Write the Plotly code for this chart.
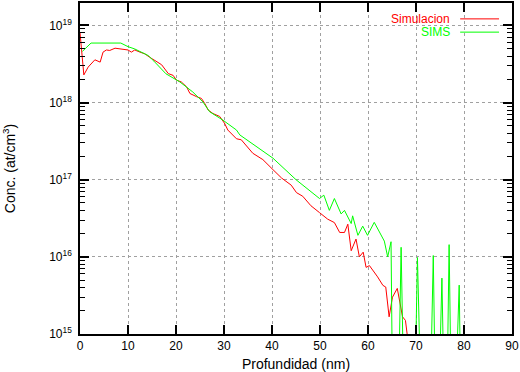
import plotly.graph_objects as go

# Simulacion (red)
sim_depth = [0.0, 0.8, 1.7, 3.1, 4.2, 4.8, 5.5, 6.2, 7.3, 8.7, 10.0, 10.7, 11.4, 12.5, 13.5,
             14.5, 15.4, 17.0, 18.4, 19.4, 20.1, 21.1, 22.2, 22.9, 24.3, 25.3, 26.0, 26.7,
             27.7, 29.1, 30.1, 30.8, 32.6, 33.6, 36.0, 38.1, 40.2, 42.0, 44.0, 45.1, 46.4,
             48.1, 49.9, 51.6, 53.0, 54.1, 55.1, 55.8, 56.5, 57.5, 58.2, 59.0, 59.6, 60.3,
             62.0, 63.1, 63.7, 64.4, 65.1, 66.1, 67.2, 67.8, 68.6]
sim_conc = [8.1e18, 2.28e18, 2.88e18, 3.58e18, 3.34e18, 4.5e18, 4.8e18, 4.73e18, 5.06e18,
            4.95e18, 4.8e18, 4.5e18, 4.8e18, 4.5e18, 4.28e18, 3.87e18, 3.54e18, 3.09e18,
            2.37e18, 2.25e18, 1.95e18, 1.85e18, 1.6e18, 1.31e18, 1.19e18, 1.13e18, 9.7e17,
            8.0e17, 7.2e17, 6.6e17, 5.4e17, 4.4e17, 3.39e17, 3.29e17, 2.2e17, 1.82e17,
            1.35e17, 1.05e17, 8.5e16, 6.8e16, 6.1e16, 4.6e16, 3.74e16, 3.08e16, 2.78e16,
            2.07e16, 2.07e16, 2.65e16, 1.2e16, 1.7e16, 1.0e16, 1.15e16, 7.3e15, 7.7e15,
            5.5e15, 4.27e15, 4.06e15, 1.67e15, 3.0e15, 3.9e15, 1.67e15, 1.5e15, 6e14]

# SIMS (green)
sims_depth = [0.5, 2.3, 8.5, 10.0, 11.4, 12.8, 14.2, 15.4, 17.9, 20.8, 23.5, 25.6, 27.0,
              29.8, 32.6, 33.3, 40.2, 45.0, 49.9, 50.8, 51.95, 53.0, 54.4, 55.1, 56.5, 56.8,
              57.9, 58.9, 59.9, 61.3, 63.4, 64.1, 64.8, 65.3, 66.0, 66.9, 67.8, 69.4, 70.3,
              71.5, 72.6, 73.6, 74.3, 75.4, 76.2, 76.9, 77.6, 79.0, 79.6]
sims_conc = [4.6e18, 5.9e18, 5.9e18, 5.3e18, 4.95e18, 4.5e18, 4.07e18, 3.44e18, 2.36e18,
             1.85e18, 1.37e18, 1.02e18, 7.6e17, 5.9e17, 4.4e17, 3.8e17, 1.9e17, 1.0e17,
             5.7e16, 6.3e16, 4.0e16, 5.7e16, 3.6e16, 4.0e16, 2.7e16, 3.4e16, 1.9e16, 2.5e16,
             1.9e16, 2.8e16, 1.6e16, 1.0e16, 1.57e16, 1e13, 1e13, 1.33e16, 1e13, 1e13,
             9.8e15, 1e13, 1e13, 1.04e16, 1e13, 5.3e15, 1e13, 1.44e16, 1e13, 4.3e15, 1e13]

x_ticks = [0, 10, 20, 30, 40, 50, 60, 70, 80, 90]
y_ticks = [1e15, 1e16, 1e17, 1e18, 1e19]
y_ticktext = ["10<sup>15</sup>", "10<sup>16</sup>", "10<sup>17</sup>", "10<sup>18</sup>", "10<sup>19</sup>"]
series_names = ["Simulacion", "SIMS"]
series_colors = ["#ff0000", "#00ff00"]

y_minor = [m * 10 ** e for e in range(15, 19) for m in range(2, 10)]

fig = go.Figure()
fig.add_trace(go.Scatter(x=sim_depth, y=sim_conc, mode="lines", name=series_names[0],
                         line=dict(color=series_colors[0], width=1), showlegend=False))
fig.add_trace(go.Scatter(x=sims_depth, y=sims_conc, mode="lines", name=series_names[1],
                         line=dict(color=series_colors[1], width=1), showlegend=False))

axis_common = dict(ticks="inside", ticklen=9, tickwidth=1.5, tickcolor="black",
                   mirror="allticks", showline=True, linecolor="black", linewidth=1.5,
                   showgrid=True, gridcolor="#a0a0a0", griddash="dot", gridwidth=1,
                   zeroline=False)

fig.update_xaxes(range=[0, 90], tickvals=x_ticks, title=dict(text="Profundidad (nm)", standoff=8),
                 **axis_common)
fig.update_yaxes(type="log", range=[15, 19.29], tickvals=y_ticks, ticktext=y_ticktext,
                 title=dict(text="Conc. (at/cm<sup>3</sup>)", standoff=30),
                 minor=dict(tickvals=y_minor, ticks="inside", ticklen=5, tickwidth=1,
                            tickcolor="black", showgrid=False),
                 ticklabelstandoff=4,
                 **axis_common)

# legend drawn gnuplot-style: coloured text, sample line to the right
leg_y = [0.952, 0.912]
for i, (nm, col) in enumerate(zip(series_names, series_colors)):
    fig.add_annotation(xref="paper", yref="paper", x=0.861, y=leg_y[i], text=nm,
                       showarrow=False, xanchor="right", yanchor="middle",
                       font=dict(color=col, size=12))
    fig.add_shape(type="line", xref="paper", yref="paper", x0=0.88, x1=0.97,
                  y0=leg_y[i], y1=leg_y[i], line=dict(color=col, width=1))

fig.update_layout(width=520, height=372, margin=dict(l=80, r=7, t=1, b=38),
                  plot_bgcolor="white", paper_bgcolor="white",
                  font=dict(family="Liberation Sans, Arial, sans-serif", size=12, color="black"))

fig.write_html("out.html", config={"displayModeBar": False},
               post_script="document.body.style.margin='0';document.body.style.padding='0';")
